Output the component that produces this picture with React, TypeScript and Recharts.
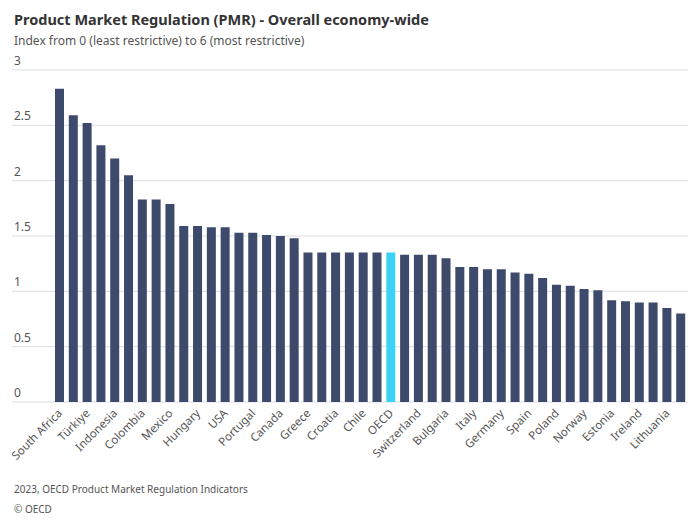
import { BarChart, Bar, XAxis, YAxis, Cell, CartesianGrid } from 'recharts';

const countries = [
  'South Africa', 'China', 'Türkiye', 'India', 'Indonesia', 'Brazil', 'Colombia', 'Argentina',
  'Mexico', 'Costa Rica', 'Hungary', 'Israel', 'USA', 'Korea', 'Portugal', 'Romania',
  'Canada', 'Slovakia', 'Greece', 'France', 'Croatia', 'Iceland', 'Chile', 'Slovenia',
  'OECD', 'Austria', 'Switzerland', 'Belgium', 'Bulgaria', 'Japan', 'Italy', 'Luxembourg',
  'Germany', 'Czechia', 'Spain', 'Latvia', 'Poland', 'Sweden', 'Norway', 'Finland',
  'Estonia', 'Australia', 'Ireland', 'Netherlands', 'Lithuania', 'Denmark',
];

const values = [
  2.83, 2.59, 2.52, 2.32, 2.2, 2.05, 1.83, 1.83, 1.79, 1.59, 1.59, 1.58, 1.58, 1.53, 1.53, 1.51,
  1.5, 1.48, 1.35, 1.35, 1.35, 1.35, 1.35, 1.35, 1.35, 1.33, 1.33, 1.33, 1.3, 1.22, 1.22, 1.2,
  1.2, 1.17, 1.16, 1.12, 1.06, 1.05, 1.02, 1.01, 0.92, 0.91, 0.9, 0.9, 0.85, 0.8,
];

const yTicks = [0, 0.5, 1, 1.5, 2, 2.5, 3];

const data = countries.map((name, i) => ({ name, value: values[i] }));

const FONT = '"Noto Sans", "Open Sans", sans-serif';

function YTick({ y, payload }: any) {
  return (
    <g>
      <line x1={12} x2={53} y1={y} y2={y} stroke="#d9dde3" strokeWidth={1} />
      <text x={14} y={y - 5} fontSize={12} fill="#555" fontFamily={FONT}>{payload.value}</text>
    </g>
  );
}

function XTick({ x, y, payload }: any) {
  return (
    <text x={x + 3} y={y + 4} fontSize={11.5} fill="#555" fontFamily={FONT}
      textAnchor="end" transform={`rotate(-45 ${x + 3} ${y + 4})`}>
      {payload.value}
    </text>
  );
}

export default function App() {
  return (
    <div style={{ position: 'relative', width: 700, height: 525, margin: -8, background: '#fff', fontFamily: FONT }}>
      <div style={{ position: 'absolute', left: 14, top: 9, fontSize: 14.5, fontWeight: 700, color: '#333' }}>
        Product Market Regulation (PMR) - Overall economy-wide
      </div>
      <div style={{ position: 'absolute', left: 14, top: 32, fontSize: 12, color: '#555' }}>
        Index from 0 (least restrictive) to 6 (most restrictive)
      </div>
      <div style={{ position: 'absolute', top: 0, left: 0 }}>
        <BarChart width={700} height={470} data={data}
          margin={{ top: 70, right: 12, left: 0, bottom: 0 }}>
          <CartesianGrid horizontal vertical={false} stroke="#d9dde3" />
          <YAxis domain={[0, 3]} ticks={yTicks} width={53} axisLine={false} tickLine={false} tick={<YTick />} />
          <XAxis dataKey="name" height={68} interval={1} axisLine={false} tickLine={false} tick={<XTick />} />
          <Bar dataKey="value" barSize={9} isAnimationActive={false}>
            {data.map((d, i) => (
              <Cell key={i} fill={d.name === 'OECD' ? '#3ad3f5' : '#3e4a6b'} />
            ))}
          </Bar>
        </BarChart>
      </div>
      <div style={{ position: 'absolute', left: 14, top: 482, fontSize: 10, color: '#555' }}>
        2023, OECD Product Market Regulation Indicators
      </div>
      <div style={{ position: 'absolute', left: 14, top: 502, fontSize: 10, color: '#555' }}>
        © OECD
      </div>
    </div>
  );
}
